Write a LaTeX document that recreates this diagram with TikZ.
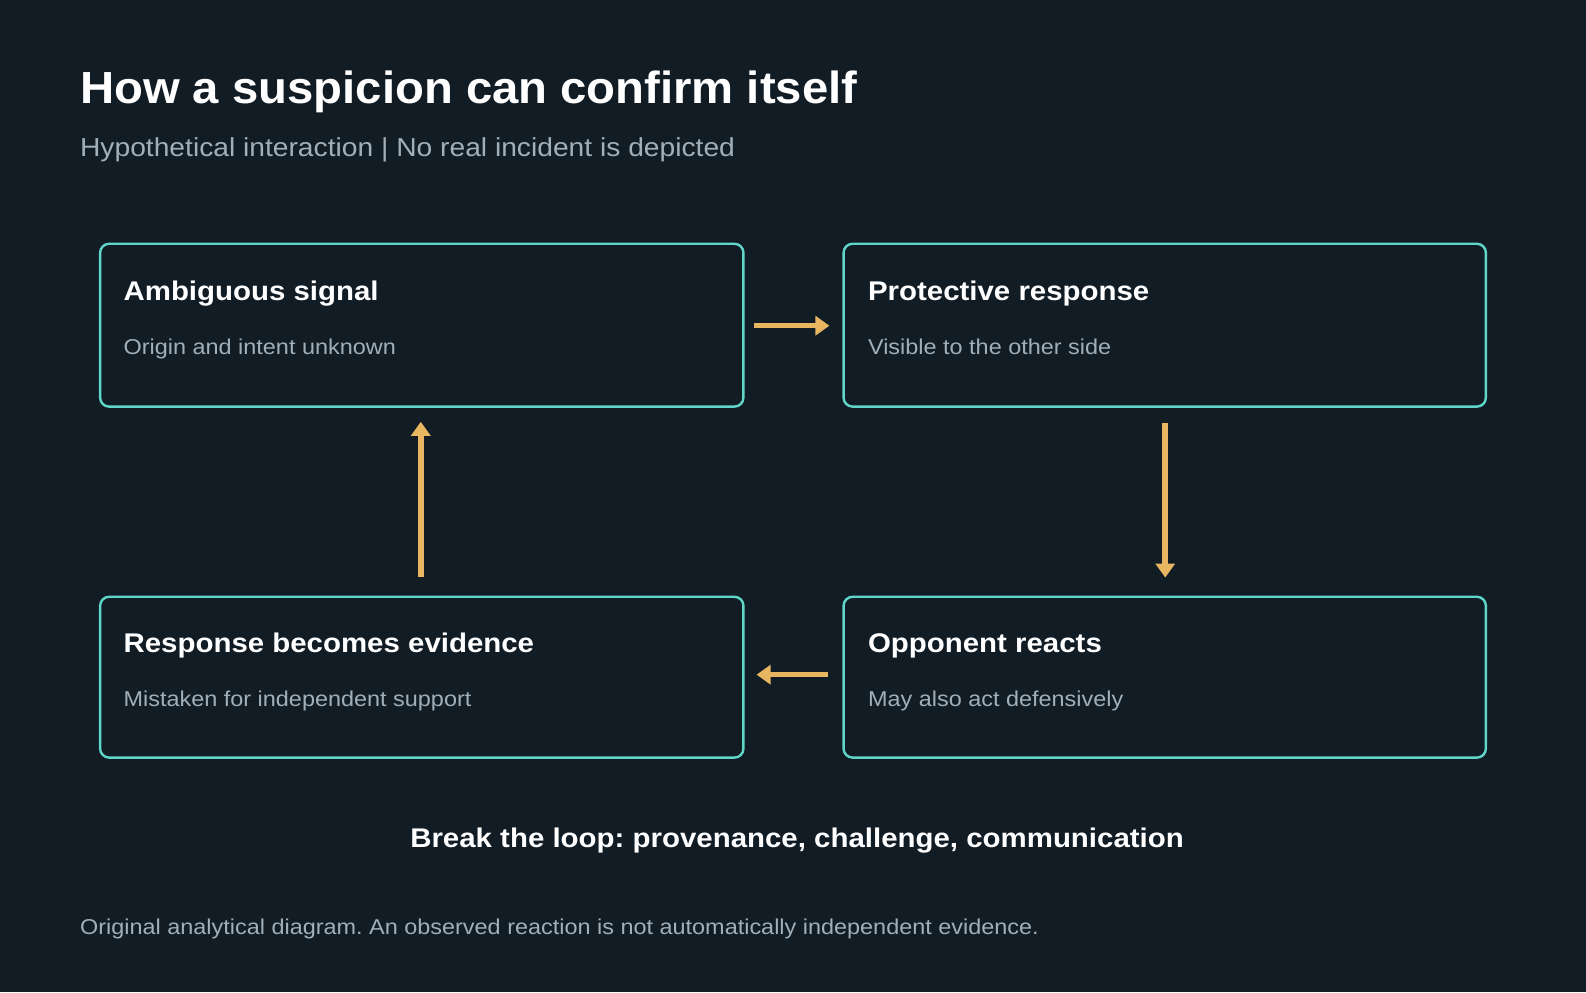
\documentclass[tikz,border=0pt]{standalone}
\usepackage{fontspec}
\setmainfont{Liberation Sans}
\newfontfamily\fA[FakeStretch=1.05]{Liberation Sans}
\newfontfamily\fB[FakeStretch=1.085]{Liberation Sans}
\newfontfamily\fC[FakeStretch=1.09]{Liberation Sans}
\usetikzlibrary{arrows.meta}
\definecolor{bg}{HTML}{111C25}
\definecolor{teal}{HTML}{5FD6C8}
\definecolor{org}{HTML}{E8B560}
\definecolor{gr}{HTML}{A3AFB8}
\frenchspacing
\begin{document}
\begin{tikzpicture}[x=1.0115pt,y=-1.0115pt,
  box/.style={draw=teal,line width=2.4pt,rounded corners=9pt},
  arr/.style={draw=org,line width=5.5pt,-{Triangle[length=14pt,width=19pt]}},
  ttl/.style={anchor=base west,text=white,font=\fC\bfseries\fontsize{27}{30}\selectfont,inner sep=0},
  sub/.style={anchor=base west,text=gr,font=\fC\fontsize{21.5}{25}\selectfont,inner sep=0}]
\fill[bg] (0,0) rectangle (1568,981);
\useasboundingbox (0,0) rectangle (1568,981);
\node[anchor=base west,text=white,inner sep=0,font=\fA\bfseries\fontsize{45}{50}\selectfont] (title) at (79,102) {How a suspicion can confirm itself};
\node[anchor=base west,text=gr,inner sep=0,font=\fB\fontsize{26}{30}\selectfont] (st) at (79,155) {Hypothetical interaction | No real incident is depicted};
\draw[box] (99,241) rectangle (735,402);
\draw[box] (834,241) rectangle (1469,402);
\draw[box] (99,590) rectangle (735,749);
\draw[box] (834,590) rectangle (1469,749);
\node[ttl] (t1) at (122,297) {Ambiguous signal};
\node[sub] (s1) at (122,350) {Origin and intent unknown};
\node[ttl] (t2) at (858,297) {Protective response};
\node[sub] (s2) at (858,350) {Visible to the other side};
\node[ttl] (t3) at (122,645) {Response becomes evidence};
\node[sub] (s3) at (122,698) {Mistaken for independent support};
\node[ttl] (t4) at (858,645) {Opponent reacts};
\node[sub] (s4) at (858,698) {May also act defensively};
\coordinate (a1s) at (745,322); \coordinate (a1e) at (820,322);
\coordinate (a2s) at (1152,418); \coordinate (a2e) at (1152,571);
\coordinate (a3s) at (819,667); \coordinate (a3e) at (748,667);
\coordinate (a4s) at (416,570); \coordinate (a4e) at (416,417);
\draw[arr] (a1s) -- (a1e);
\draw[arr] (a2s) -- (a2e);
\draw[arr] (a3s) -- (a3e);
\draw[arr] (a4s) -- (a4e);
\node[anchor=base,text=white,inner sep=0,font=\fC\bfseries\fontsize{27}{30}\selectfont] (br) at (788,838) {Break the loop: provenance, challenge, communication};
\node[anchor=base west,text=gr,inner sep=0,font=\fC\fontsize{21.5}{25}\selectfont] (ft) at (79,924) {Original analytical diagram. An observed reaction is not automatically independent evidence.};
\end{tikzpicture}
\end{document}
